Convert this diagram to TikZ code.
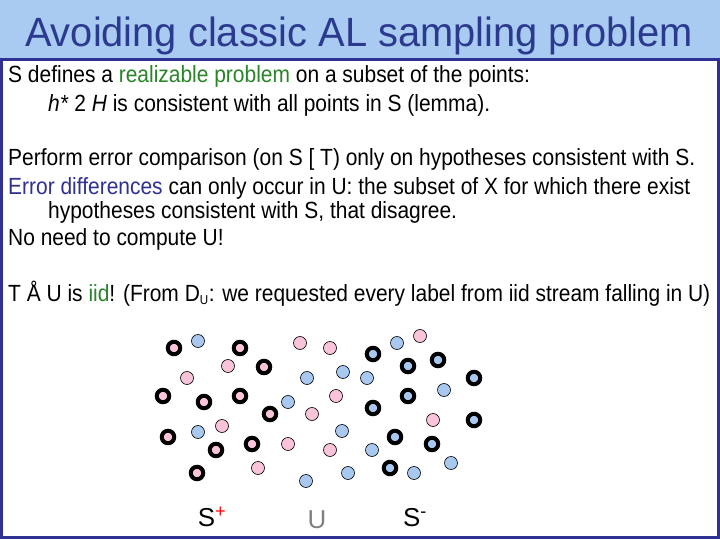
\documentclass[tikz,border=0pt]{standalone}
\usepackage{fontspec}
\setmainfont{Liberation Sans}
\newfontfamily\bodyfont{Liberation Sans}[FakeStretch=0.895]
\newfontfamily\titlefont{Liberation Sans}[FakeStretch=0.975]
\begin{document}
\begin{tikzpicture}[x=1bp,y=-1bp,
  txt/.style={anchor=base west,inner sep=0pt,font=\bodyfont\fontsize{23.5}{26}\selectfont},
  pinkdot/.style={circle,fill=dotpink,draw=black,line width=0.6bp,minimum size=13bp,inner sep=0pt},
  bluedot/.style={circle,fill=dotblue,draw=black,line width=0.6bp,minimum size=13bp,inner sep=0pt},
  pinkring/.style={circle,fill=dotpink,draw=black,line width=4bp,minimum size=12.5bp,inner sep=0pt},
  bluering/.style={circle,fill=dotblue,draw=black,line width=4bp,minimum size=12.5bp,inner sep=0pt},
  lbl/.style={anchor=base,inner sep=0pt,font=\fontsize{26}{28}\selectfont}]
\definecolor{titlebg}{HTML}{A9CBF2}
\definecolor{navy}{HTML}{2E3192}
\definecolor{titletxt}{HTML}{2B3A8F}
\definecolor{dgreen}{HTML}{2A842A}
\definecolor{dotpink}{HTML}{F9C3DA}
\definecolor{dotblue}{HTML}{A9C8F0}
\useasboundingbox (0,0) rectangle (720,540);
\fill[white] (0,0) rectangle (720,540);
\fill[titlebg] (0,0) rectangle (720,59);
\draw[navy,line width=3bp] (1,59.5) rectangle (718,537.5);
\node[anchor=base,inner sep=0pt,text=titletxt,font=\titlefont\fontsize{41}{44}\selectfont] (title) at (359,47) {Avoiding classic AL sampling problem};
\node[txt] (l1) at (8,83) {S defines a \textcolor{dgreen}{realizable problem} on a subset of the points:};
\node[txt] (l2) at (48,112) {\textit{h*} 2 \textit{H} is consistent with all points in S (lemma).};
\node[txt] (l3) at (8,166) {Perform error comparison (on S [ T) only on hypotheses consistent with S.};
\node[txt] (l4) at (8,195) {\textcolor{navy}{Error differences} can only occur in U: the subset of X for which there exist};
\node[txt] (l5) at (48,219) {hypotheses consistent with S, that disagree.};
\node[txt] (l6) at (8,246) {No need to compute U!};
\node[txt] (l7) at (8,301) {T Å U is \textcolor{dgreen}{iid}! (From D\textsubscript{\fontsize{13}{14}\selectfont U}: we requested every label from iid stream falling in U)};
% S+ points
\foreach \p [count=\i] in {(174,348),(240,348),(264,367),(163,396),(204,402),(240,396),(270,414),(168,437),(216,450),(252,444),(197,473)}
  \node[pinkring] (sp\i) at \p {};
% S- points
\foreach \p [count=\i] in {(373,354),(408,366),(438,360),(474,378),(408,396),(373,408),(474,420),(395,437),(432,444),(390,468)}
  \node[bluering] (sm\i) at \p {};
% U pink
\foreach \p [count=\i] in {(300,343),(330,348),(228,366),(187,378),(312,414),(222,426),(420,336),(336,396),(433,420),(288,444),(330,450),(258,468)}
  \node[pinkdot] (up\i) at \p {};
% U blue
\foreach \p [count=\i] in {(198,341),(307,378),(288,402),(198,432),(397,343),(343,372),(367,378),(444,390),(342,431),(372,450),(306,481),(348,473),(414,473),(451,463)}
  \node[bluedot] (ub\i) at \p {};
\node[lbl] (splus) at (212,526) {S\textsuperscript{\textcolor{red}{+}}};
\node[lbl,text=gray] (ulbl) at (317,528) {U};
\node[lbl] (sminus) at (415,526) {S\textsuperscript{-}};
\end{tikzpicture}
\end{document}
